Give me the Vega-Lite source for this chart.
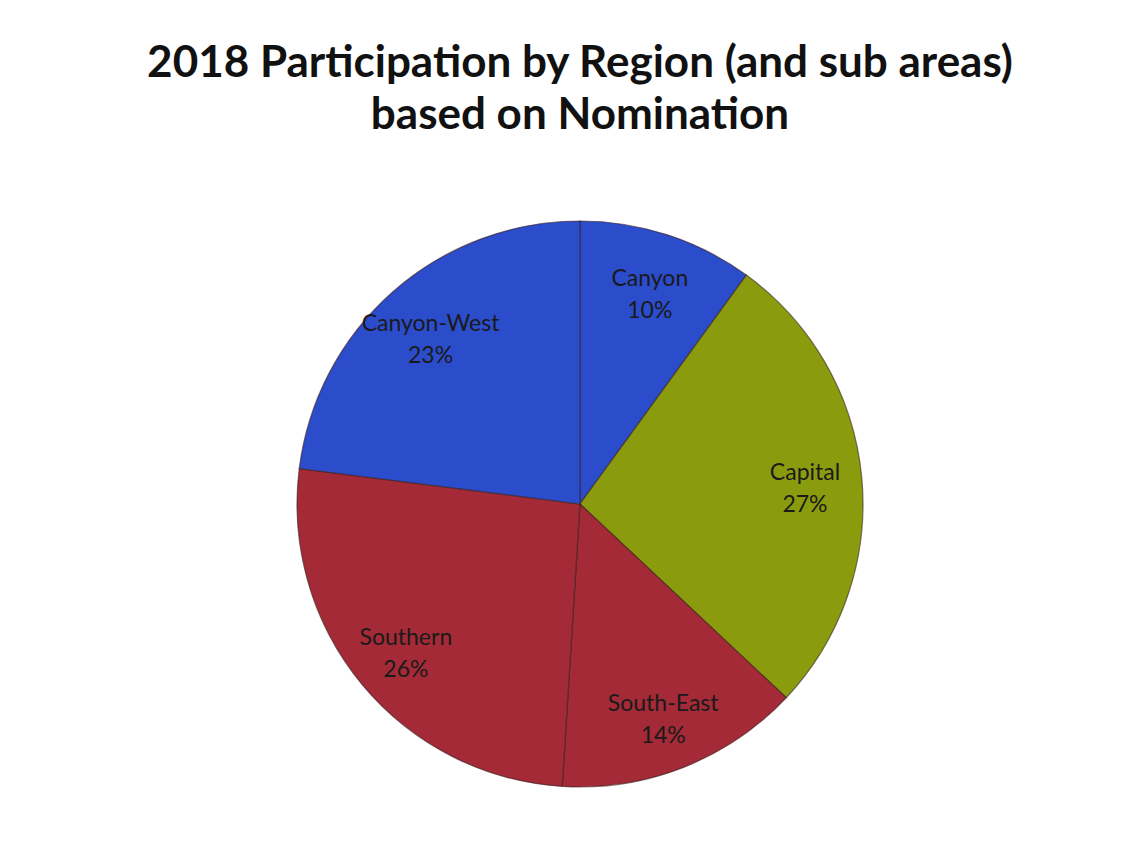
{
  "$schema": "https://vega.github.io/schema/vega-lite/v6.json",
  "autosize": "none",
  "width": 1100,
  "height": 600,
  "padding": {"left": 30, "top": 204, "right": 17, "bottom": 55},
  "background": "white",
  "title": {
    "text": ["2018 Participation by Region (and sub areas)", "based on Nomination"],
    "font": "Lato",
    "fontWeight": "bold",
    "fontSize": 44,
    "lineHeight": 52,
    "color": "#111111",
    "anchor": "middle",
    "offset": 66
  },
  "data": {
    "values": [
      {"region": "Canyon", "pct": 10, "ord": 1},
      {"region": "Capital", "pct": 27, "ord": 2},
      {"region": "South-East", "pct": 14, "ord": 3},
      {"region": "Southern", "pct": 26, "ord": 4},
      {"region": "Canyon-West", "pct": 23, "ord": 5}
    ]
  },
  "transform": [
    {"calculate": "datum.region + '\\n' + datum.pct + '%'", "as": "label"}
  ],
  "encoding": {
    "theta": {"field": "pct", "type": "quantitative", "stack": true},
    "order": {"field": "ord", "type": "quantitative"}
  },
  "layer": [
    {
      "mark": {"type": "arc", "outerRadius": 283, "stroke": "#3a1f1f", "strokeWidth": 1.2, "strokeOpacity": 0.6},
      "encoding": {
        "color": {
          "field": "region",
          "type": "nominal",
          "scale": {
            "domain": ["Canyon", "Capital", "South-East", "Southern", "Canyon-West"],
            "range": ["#2b4dcb", "#8a9c0e", "#a32a36", "#a32a36", "#2b4dcb"]
          },
          "legend": null
        }
      }
    },
    {
      "mark": {"type": "text", "radius": 226, "dy": -10, "font": "Lato", "fontSize": 23, "lineBreak": "\n", "lineHeight": 32, "color": "#1a1a1a", "align": "center", "baseline": "middle"},
      "encoding": {
        "text": {"field": "label", "type": "nominal"}
      }
    }
  ]
}
